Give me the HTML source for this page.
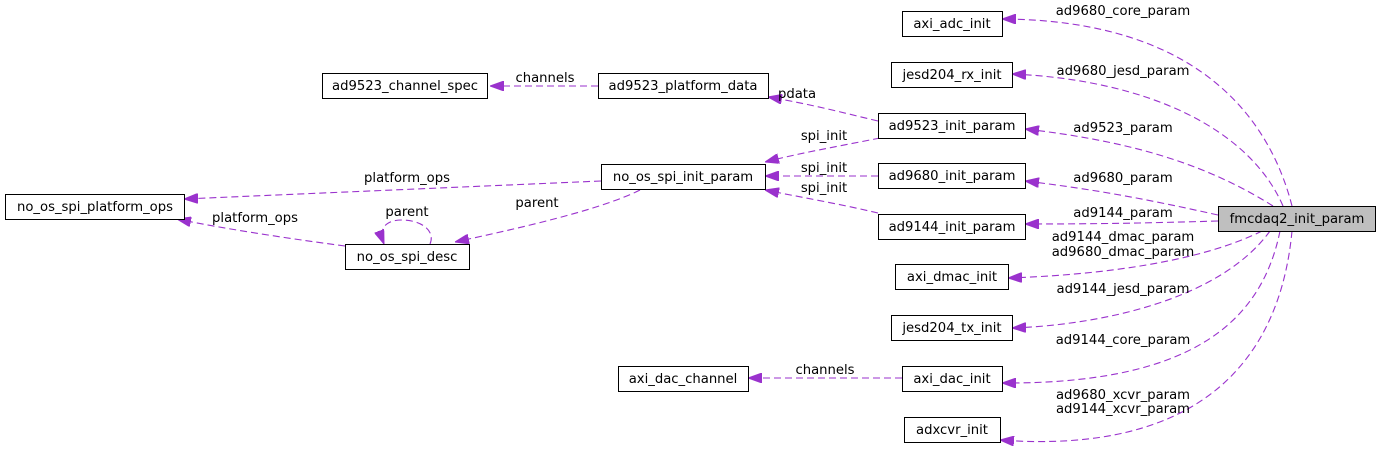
<!DOCTYPE html>
<html><head><meta charset="utf-8"><style>
html,body{margin:0;padding:0;background:#fff;width:1380px;height:453px;overflow:hidden}
svg text{font-family:"DejaVu Sans","Liberation Sans",sans-serif;font-size:13.2px;fill:#000}
.b{fill:#fff;stroke:#000;stroke-width:1}
.e{fill:none;stroke:#9a32cd;stroke-width:1.1;stroke-dasharray:7,4}
</style></head><body>
<svg width="1380" height="453" viewBox="0 0 1380 453" xmlns="http://www.w3.org/2000/svg">
<defs><marker id="a" markerUnits="userSpaceOnUse" markerWidth="14" markerHeight="10" refX="14" refY="5" orient="auto"><path d="M0,0 L14,5 L0,10 Z" fill="#9a32cd" stroke="#9a32cd"/></marker></defs>
<path class="e" marker-end="url(#a)" d="M1292,206 C1270,120 1200,20 1002,19"/>
<path class="e" marker-end="url(#a)" d="M1283,206 C1250,130 1150,80 1012,74"/>
<path class="e" marker-end="url(#a)" d="M1273,206 C1200,160 1120,140 1025,129"/>
<path class="e" marker-end="url(#a)" d="M1218,215 C1150,200 1100,190 1025,181"/>
<path class="e" marker-end="url(#a)" d="M1218,221 C1150,223 1100,224 1025,224"/>
<path class="e" marker-end="url(#a)" d="M1262,231 C1200,262 1100,275 1008,278"/>
<path class="e" marker-end="url(#a)" d="M1270,231 C1220,300 1100,325 1012,328"/>
<path class="e" marker-end="url(#a)" d="M1280,231 C1260,330 1180,384 1002,383"/>
<path class="e" marker-end="url(#a)" d="M1292,231 C1280,360 1200,455 1000,440"/>
<path class="e" marker-end="url(#a)" d="M598,86 L490,86"/>
<path class="e" marker-end="url(#a)" d="M878,121 C840,112 810,104 768,97"/>
<path class="e" marker-end="url(#a)" d="M880,138 C840,146 800,153 765,162"/>
<path class="e" marker-end="url(#a)" d="M878,176 L765,176"/>
<path class="e" marker-end="url(#a)" d="M878,213 C840,204 800,197 765,190"/>
<path class="e" marker-end="url(#a)" d="M601,181 L184,199"/>
<path class="e" marker-end="url(#a)" d="M640,190 C600,210 520,228 455,242"/>
<path class="e" marker-end="url(#a)" d="M345,246 C300,240 230,230 177,219"/>
<path class="e" marker-end="url(#a)" d="M430,244 C436,230 420,220 402,220 C386,220 378,228 384,244"/>
<path class="e" marker-end="url(#a)" d="M902,378 L748,378"/>
<rect class="b" x="902.5" y="11.5" width="100" height="25"/><text x="952" y="28" text-anchor="middle">axi_adc_init</text>
<rect class="b" x="891.5" y="62.5" width="121" height="25"/><text x="952" y="79" text-anchor="middle">jesd204_rx_init</text>
<rect class="b" x="878.5" y="113.5" width="147" height="25"/><text x="952" y="130" text-anchor="middle">ad9523_init_param</text>
<rect class="b" x="878.5" y="163.5" width="147" height="25"/><text x="952" y="180" text-anchor="middle">ad9680_init_param</text>
<rect class="b" x="878.5" y="214.5" width="147" height="25"/><text x="952" y="231" text-anchor="middle">ad9144_init_param</text>
<rect x="1218.5" y="206.5" width="157" height="25" fill="#bfbfbf" stroke="#000"/><text x="1297" y="223" text-anchor="middle">fmcdaq2_init_param</text>
<rect class="b" x="322.5" y="73.5" width="165" height="25"/><text x="405" y="90" text-anchor="middle">ad9523_channel_spec</text>
<rect class="b" x="598.5" y="73.5" width="170" height="25"/><text x="683" y="90" text-anchor="middle">ad9523_platform_data</text>
<rect class="b" x="601.5" y="164.5" width="164" height="25"/><text x="683" y="181" text-anchor="middle">no_os_spi_init_param</text>
<rect class="b" x="5.5" y="194.5" width="179" height="25"/><text x="95" y="211" text-anchor="middle">no_os_spi_platform_ops</text>
<rect class="b" x="345.5" y="244.5" width="124" height="25"/><text x="407" y="261" text-anchor="middle">no_os_spi_desc</text>
<rect class="b" x="895.5" y="264.5" width="113" height="25"/><text x="952" y="281" text-anchor="middle">axi_dmac_init</text>
<rect class="b" x="891.5" y="315.5" width="121" height="25"/><text x="952" y="332" text-anchor="middle">jesd204_tx_init</text>
<rect class="b" x="902.5" y="366.5" width="100" height="25"/><text x="952" y="383" text-anchor="middle">axi_dac_init</text>
<rect class="b" x="618.5" y="366.5" width="130" height="25"/><text x="683" y="383" text-anchor="middle">axi_dac_channel</text>
<rect class="b" x="904.5" y="417.5" width="96" height="25"/><text x="952" y="434" text-anchor="middle">adxcvr_init</text>
<g text-anchor="middle">
<text x="1123" y="15">ad9680_core_param</text>
<text x="1123" y="75">ad9680_jesd_param</text>
<text x="1123" y="132">ad9523_param</text>
<text x="1123" y="182">ad9680_param</text>
<text x="1123" y="217">ad9144_param</text>
<text x="1123" y="241">ad9144_dmac_param</text>
<text x="1123" y="256">ad9680_dmac_param</text>
<text x="1123" y="293">ad9144_jesd_param</text>
<text x="1123" y="344">ad9144_core_param</text>
<text x="1123" y="399">ad9680_xcvr_param</text>
<text x="1123" y="413">ad9144_xcvr_param</text>
<text x="545" y="82">channels</text>
<text x="797" y="98">pdata</text>
<text x="824" y="140">spi_init</text>
<text x="824" y="172">spi_init</text>
<text x="824" y="192">spi_init</text>
<text x="407" y="182">platform_ops</text>
<text x="537" y="207">parent</text>
<text x="407" y="216">parent</text>
<text x="255" y="222">platform_ops</text>
<text x="825" y="374">channels</text>
</g>
</svg>
</body></html>
